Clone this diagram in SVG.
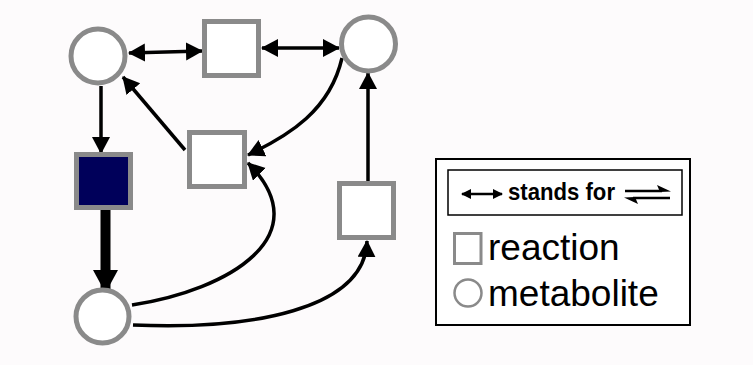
<svg xmlns="http://www.w3.org/2000/svg" width="753" height="365" viewBox="0 0 753 365">
  <style>
    .met { fill: #ffffff; stroke: #8a8a8a; stroke-width: 5; }
    .rxn { fill: #ffffff; stroke: #8a8a8a; stroke-width: 5; }
    .rxn-hi { fill: #00005a; stroke: #8a8a8a; stroke-width: 5; }
    .edge { fill: none; stroke: #000000; stroke-width: 3.5; }
    .edge-thick { fill: none; stroke: #000000; stroke-width: 10; }
    .lg-frame { fill: #ffffff; stroke: #000000; stroke-width: 2; }
    .lg-inner { fill: #ffffff; stroke: #000000; stroke-width: 1.5; }
    .lg-text { font-family: "Liberation Sans", Arial, sans-serif; fill: #000000; }
  </style>
  <defs>
    <marker id="arrow" markerUnits="userSpaceOnUse" markerWidth="19" markerHeight="19" refX="16" refY="9" orient="auto-start-reverse">
      <path d="M0,0 L17,9 L0,18 z" fill="#000000"/>
    </marker>
    <marker id="arrow-big" markerUnits="userSpaceOnUse" markerWidth="24" markerHeight="26" refX="22" refY="12.5" orient="auto">
      <path d="M0,0 L23,12.5 L0,25 z" fill="#000000"/>
    </marker>
    <marker id="arrow-small" markerUnits="userSpaceOnUse" markerWidth="11" markerHeight="11" refX="9" refY="5" orient="auto-start-reverse">
      <path d="M0,0 L10,5 L0,10 z" fill="#000000"/>
    </marker>
  </defs>

  <rect x="0" y="0" width="753" height="365" fill="#fdfbfc"/>

  <!-- connectors -->
  <g id="connectors">
    <path class="edge" d="M129,53 L202,51" marker-start="url(#arrow)" marker-end="url(#arrow)"/>
    <path class="edge" d="M262,48 L339,48" marker-start="url(#arrow)" marker-end="url(#arrow)"/>
    <path class="edge" d="M101,86 L101,153" marker-end="url(#arrow)"/>
    <path class="edge" d="M185,150 L123,77" marker-end="url(#arrow)"/>
    <path class="edge" d="M342,58 C330,110 290,135 248,155" marker-end="url(#arrow)"/>
    <path class="edge-thick" d="M105.5,210 L105.5,292" marker-end="url(#arrow-big)"/>
    <path class="edge" d="M132,305 C230,290 320,235 248,163" marker-end="url(#arrow)"/>
    <path class="edge" d="M133,325 C250,330 365,310 367,241" marker-end="url(#arrow)"/>
    <path class="edge" d="M368,181 L368,73" marker-end="url(#arrow)"/>
  </g>

  <!-- metabolites -->
  <g id="m-top-left"><circle class="met" cx="98" cy="56" r="27"/></g>
  <g id="m-top-right"><circle class="met" cx="368.5" cy="44" r="27"/></g>
  <g id="m-bottom"><circle class="met" cx="102.5" cy="316.5" r="26.5"/></g>

  <!-- reactions -->
  <g id="r-top"><rect class="rxn" x="204.5" y="21.5" width="54" height="54"/></g>
  <g id="r-middle"><rect class="rxn" x="189.5" y="132.5" width="55" height="54"/></g>
  <g id="r-highlight"><rect class="rxn-hi" x="76.5" y="154.5" width="54" height="53"/></g>
  <g id="r-right"><rect class="rxn" x="339.5" y="183.5" width="54" height="54"/></g>

  <!-- legend -->
  <g id="legend">
    <rect class="lg-frame" x="436" y="159" width="254" height="166"/>
    <rect class="lg-inner" x="448" y="170" width="234" height="45"/>
    <path d="M462,194 L502,194" stroke="#000" stroke-width="2.5" marker-start="url(#arrow-small)" marker-end="url(#arrow-small)"/>
    <text class="lg-text" x="508" y="200" font-size="24" font-weight="bold" textLength="107" lengthAdjust="spacingAndGlyphs">stands for</text>
    <!-- equilibrium harpoons -->
    <path d="M625,191 L662,191" stroke="#000" stroke-width="2.5"/>
    <polygon points="671,191.5 657,185 660,192" fill="#000"/>
    <path d="M633,198 L670,198" stroke="#000" stroke-width="2.5"/>
    <polygon points="624,197.5 638,204 635,197" fill="#000"/>
    <rect x="454.5" y="233.5" width="26.5" height="30" fill="#ffffff" stroke="#8a8a8a" stroke-width="3"/>
    <text class="lg-text" x="488" y="260" font-size="37">reaction</text>
    <circle cx="468" cy="293" r="13.5" fill="#ffffff" stroke="#8a8a8a" stroke-width="2.5"/>
    <text class="lg-text" x="488" y="306" font-size="37">metabolite</text>
  </g>
</svg>
